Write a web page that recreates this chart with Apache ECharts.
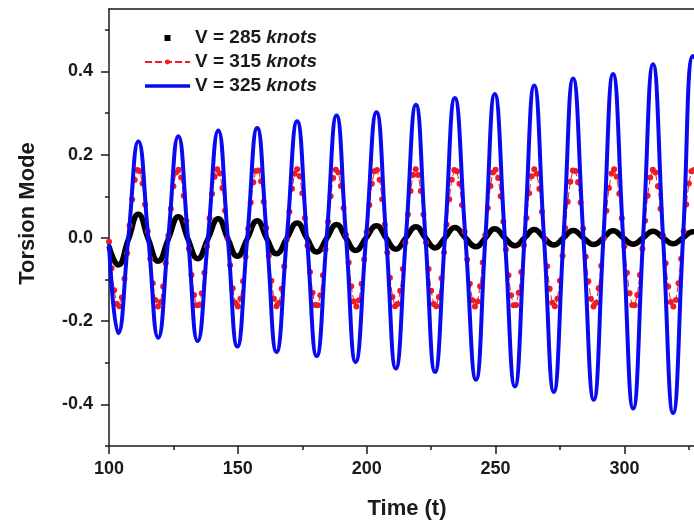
<!DOCTYPE html>
<html><head><meta charset="utf-8">
<script src="https://cdn.jsdelivr.net/npm/echarts@6/dist/echarts.min.js"></script>
<style>html,body{margin:0;padding:0;background:#fff}#c{width:694px;height:525px}</style>
</head><body><div id="c"></div>
<script>
const FONT = '"Liberation Sans", Arial, Helvetica, sans-serif';

// ---- data ----
const seriesNames = ['V = 285 knots', 'V = 315 knots', 'V = 325 knots'];

// shared time stamps (extrema and zero crossings) for V=325 and V=285 curves
const waveTime = [100, 103.6, 107.5, 111.4, 115.25, 119.1, 123.0, 126.9, 130.65, 134.4, 138.4, 142.4, 146.1, 149.8, 153.65,
  157.5, 161.25, 165.0, 169.0, 173.0, 176.8, 180.6, 184.45, 188.3, 192.0, 195.7, 199.75, 203.8, 207.55, 211.3,
  215.2, 219.1, 222.8, 226.5, 230.35, 234.2, 238.3, 242.4, 246.05, 249.7, 253.6, 257.5, 261.25, 265.0, 268.8,
  272.6, 276.35, 280.1, 284.1, 288.1, 291.85, 295.6, 299.5, 303.4, 307.25, 311.1, 315.0, 318.9, 322.75, 326.6, 328];

const v325 = [-0.015, -0.229, 0, 0.232, 0, -0.240, 0, 0.244, 0, -0.248, 0, 0.258, 0, -0.261, 0,
  0.264, 0, -0.274, 0, 0.280, 0, -0.284, 0, 0.294, 0, -0.298, 0, 0.302, 0, -0.314,
  0, 0.320, 0, -0.322, 0, 0.336, 0, -0.341, 0, 0.346, 0, -0.357, 0, 0.366, 0,
  -0.370, 0, 0.383, 0, -0.389, 0, 0.394, 0, -0.410, 0, 0.417, 0, -0.421, 0, 0.437, 0.43];

const v285 = [-0.020, -0.065, -0.004, 0.057, -0.003, -0.056, -0.003, 0.051, -0.003, -0.050, -0.002, 0.046, -0.002, -0.044, -0.002,
  0.041, -0.002, -0.038, -0.001, 0.036, -0.001, -0.034, -0.001, 0.032, -0.001, -0.030, 0, 0.029, 0, -0.027,
  0, 0.027, 0, -0.024, 0, 0.025, 0, -0.021, 0, 0.022, 0, -0.019, 0, 0.020, 0,
  -0.017, 0, 0.018, 0, -0.016, 0, 0.017, 0, -0.015, 0, 0.016, 0, -0.014, 0, 0.015, 0.014];

// V=315 sampled every time unit starting at t=100
const v315Start = 100, v315Step = 1;
const v315 = [-0.009,-0.073,-0.126,-0.158,-0.164,-0.143,-0.098,-0.037,0.030,0.092,
  0.139,0.163,0.160,0.131,0.080,0.016,-0.050,-0.109,-0.149,-0.165,
  -0.154,-0.117,-0.061,0.005,0.070,0.124,0.157,0.164,0.145,0.101,
  0.041,-0.026,-0.089,-0.137,-0.162,-0.161,-0.133,-0.084,-0.020,0.047,
  0.106,0.147,0.165,0.155,0.120,0.065,-0.001,-0.066,-0.121,-0.156,
  -0.165,-0.146,-0.104,-0.045,0.022,0.085,0.134,0.161,0.162,0.136,
  0.087,0.024,-0.043,-0.103,-0.146,-0.164,-0.156,-0.122,-0.068,-0.003,
  0.063,0.118,0.154,0.165,0.148,0.107,0.048,-0.018,-0.082,-0.132,
  -0.161,-0.162,-0.138,-0.090,-0.028,0.039,0.100,0.144,0.164,0.157,
  0.125,0.072,0.007,-0.059,-0.116,-0.153,-0.165,-0.150,-0.110,-0.052,
  0.014,0.079,0.130,0.160,0.163,0.140,0.093,0.032,-0.035,-0.096,
  -0.142,-0.164,-0.159,-0.127,-0.075,-0.011,0.056,0.113,0.151,0.165,
  0.151,0.113,0.056,-0.011,-0.075,-0.127,-0.159,-0.164,-0.142,-0.097,
  -0.035,0.032,0.093,0.140,0.163,0.160,0.130,0.079,0.015,-0.052,
  -0.110,-0.150,-0.165,-0.153,-0.116,-0.059,0.007,0.072,0.125,0.157,
  0.164,0.144,0.100,0.039,-0.028,-0.090,-0.138,-0.162,-0.161,-0.132,
  -0.082,-0.018,0.048,0.107,0.148,0.165,0.154,0.118,0.063,-0.003,
  -0.068,-0.122,-0.156,-0.164,-0.146,-0.103,-0.043,0.024,0.087,0.135,
  0.162,0.161,0.134,0.085,0.022,-0.045,-0.104,-0.146,-0.165,-0.156,
  -0.121,-0.067,-0.001,0.065,0.120,0.155,0.165,0.147,0.106,0.047,
  -0.020,-0.084,-0.133,-0.161,-0.162,-0.137,-0.089,-0.026,0.041,0.101,
  0.145,0.164,0.157,0.124,0.070,0.005,-0.061,-0.117,-0.154,-0.165,
  -0.149,-0.109,-0.050,0.016,0.080,0.131,0.160,0.163];

const xMajorTicks = [100, 150, 200, 250, 300];
const xMinorTicks = [125, 175, 225, 275, 325];
const yMajorTicks = [-0.4, -0.2, 0, 0.2, 0.4];
const yMinorTicks = [-0.5, -0.3, -0.1, 0.1, 0.3, 0.5];
const xRange = [100, 327];
const yRange = [-0.5, 0.55];

// ---- build ----
const pair = (ts, vs) => ts.map((t, i) => [t, vs[i]]);
const d315 = v315.map((v, i) => [v315Start + i * v315Step, v]);

const AX = '#1a1a1a';
const lineS = { color: AX, width: 1.5 };
const labelFmt = v => (Math.abs(v) < 1e-9 ? '0.0' : String(Number(v.toFixed(1))).replace(/^(-?\d+)$/, '$1.0'));

const RED = '#ee1c24', BLUE = '#0a0af0';

const chart = echarts.init(document.getElementById('c'), null, { renderer: 'canvas' });
chart.setOption({
  animation: false,
  backgroundColor: '#fff',
  grid: { left: 109, right: 0, top: 9, bottom: 77, containLabel: false },
  legend: {
    orient: 'vertical', left: 144, top: 28, padding: 0, itemWidth: 45, itemHeight: 6, itemGap: 4,
    selectedMode: false,
    data: [
      { name: seriesNames[0], icon: 'path://M0,0L10,0L10,10L0,10Z' },
      { name: seriesNames[1] },
      { name: seriesNames[2], icon: 'path://M0,0L45,0L45,3.5L0,3.5Z', itemStyle: { color: BLUE } }
    ],
    formatter: n => n.replace('knots', '{i|knots}'),
    textStyle: {
      fontFamily: FONT, fontSize: 19, fontWeight: 'bold', color: AX, lineHeight: 20,
      rich: { i: { fontFamily: FONT, fontSize: 19, fontWeight: 'bold', fontStyle: 'italic', color: AX, lineHeight: 20 } }
    }
  },
  xAxis: [
    {
      type: 'value', min: xRange[0], max: xRange[1], position: 'bottom',
      axisLine: { show: true, onZero: false, lineStyle: lineS },
      axisTick: { show: true, customValues: xMajorTicks, length: 8, lineStyle: lineS },
      axisLabel: { customValues: xMajorTicks, margin: 14, fontFamily: FONT, fontSize: 18, fontWeight: 'bold', color: AX },
      splitLine: { show: false },
      name: 'Time (t)', nameLocation: 'middle', nameGap: 52,
      nameTextStyle: { fontFamily: FONT, fontSize: 22, fontWeight: 'bold', color: AX, padding: [0, 0, 0, 11] }
    },
    {
      type: 'value', min: xRange[0], max: xRange[1], position: 'bottom',
      axisLine: { show: false, onZero: false },
      axisTick: { show: true, customValues: xMinorTicks, length: 4, lineStyle: lineS },
      axisLabel: { show: false }, splitLine: { show: false }
    },
    {
      type: 'value', min: xRange[0], max: xRange[1], position: 'top',
      axisLine: { show: true, onZero: false, lineStyle: lineS },
      axisTick: { show: false }, axisLabel: { show: false }, splitLine: { show: false }
    }
  ],
  yAxis: [
    {
      type: 'value', min: yRange[0], max: yRange[1], position: 'left',
      axisLine: { show: true, onZero: false, lineStyle: lineS },
      axisTick: { show: true, customValues: yMajorTicks, length: 8, lineStyle: lineS },
      axisLabel: { customValues: yMajorTicks, margin: 16, formatter: labelFmt, fontFamily: FONT, fontSize: 18, fontWeight: 'bold', color: AX },
      splitLine: { show: false },
      name: 'Torsion Mode', nameLocation: 'middle', nameGap: 70,
      nameTextStyle: { fontFamily: FONT, fontSize: 22, fontWeight: 'bold', color: AX, padding: [0, 0, 0, 28] }
    },
    {
      type: 'value', min: yRange[0], max: yRange[1], position: 'left',
      axisLine: { show: false, onZero: false },
      axisTick: { show: true, customValues: yMinorTicks, length: 4, lineStyle: lineS },
      axisLabel: { show: false }, splitLine: { show: false }
    }
  ],
  series: [
    {
      name: seriesNames[0], type: 'line', data: pair(waveTime, v285), smooth: 0.5,
      symbol: 'none', color: '#000',
      lineStyle: { color: '#000', width: 5.5 }, itemStyle: { color: '#000' }, z: 2
    },
    {
      name: seriesNames[1], type: 'line', data: d315, smooth: false,
      symbol: 'circle', symbolSize: 6, showSymbol: true, color: RED,
      lineStyle: { color: RED, width: 1, type: [7, 3] }, itemStyle: { color: RED }, z: 3
    },
    {
      name: seriesNames[2], type: 'line', data: pair(waveTime, v325), smooth: 0.5,
      symbol: 'none', color: BLUE,
      lineStyle: { color: BLUE, width: 4 }, itemStyle: { color: BLUE }, z: 4
    }
  ]
});
</script></body></html>
